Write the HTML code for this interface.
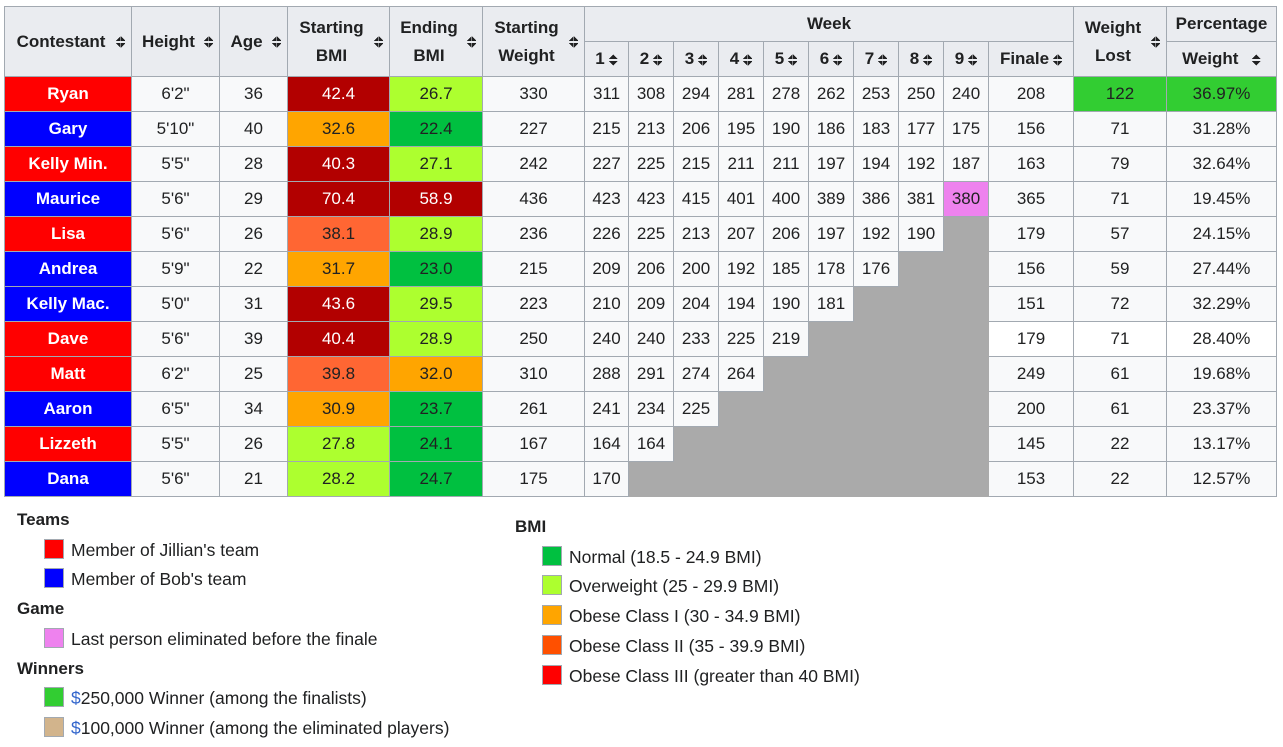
<!DOCTYPE html>
<html><head><meta charset="utf-8"><style>
body{margin:0;background:#fff;font-family:"Liberation Sans",sans-serif;color:#202122;width:1283px;height:747px;overflow:hidden;position:relative}
table{position:absolute;left:4px;top:6px;border-collapse:collapse;table-layout:fixed;font-size:17px}
td,th{border:1px solid #a2a9b1;padding:0;text-align:center;background:#f8f9fa;height:34px}
th{background:#eaecf0;font-weight:bold;font-size:17px;line-height:28px;position:relative}
th.s{padding-right:14px}
.a{display:inline-block;width:9px;height:12px;vertical-align:middle;margin-left:4px;background:
linear-gradient(to bottom right,transparent 50%,#202122 50%) 0 0/4.5px 5px no-repeat,
linear-gradient(to bottom left,transparent 50%,#202122 50%) 4.5px 0/4.5px 5px no-repeat,
linear-gradient(to top right,transparent 50%,#202122 50%) 0 7px/4.5px 5px no-repeat,
linear-gradient(to top left,transparent 50%,#202122 50%) 4.5px 7px/4.5px 5px no-repeat}
.r{position:absolute;right:6px;top:50%;margin-top:-6px}
.R{background:#f00;color:#fff;font-weight:bold}.B{background:#00f;color:#fff;font-weight:bold}
.dr{background:#b20000;color:#fff}.or{background:#ffa500}.oo{background:#ff6633}.lg{background:#adff2f}.gn{background:#00c040}
.w{background:#32cd32}.pk{background:#ee82ee}.g{background:#aaa;border-color:#aaa}
.lg2{position:absolute;font-size:17.5px}
.lg2 b{position:absolute;white-space:nowrap;font-size:17px}
.it{position:absolute;white-space:nowrap}
.it i{position:absolute;left:-27px;top:-1px;width:20px;height:20px;border:1px solid #a2a9b1;box-sizing:border-box}
.d{color:#3366cc}
</style></head><body>
<table>
<colgroup><col style="width:127px"><col style="width:88px"><col style="width:68px"><col style="width:102px"><col style="width:93px"><col style="width:102px"><col style="width:44px"><col style="width:45px"><col style="width:45px"><col style="width:45px"><col style="width:45px"><col style="width:45px"><col style="width:45px"><col style="width:45px"><col style="width:45px"><col style="width:85px"><col style="width:93px"><col style="width:110px"></colgroup>
<tr><th rowspan="2" class="s">Contestant<span class="a r"></span></th><th rowspan="2" class="s">Height<span class="a r"></span></th><th rowspan="2" class="s">Age<span class="a r"></span></th><th rowspan="2" class="s">Starting<br>BMI<span class="a r"></span></th><th rowspan="2" class="s">Ending<br>BMI<span class="a r"></span></th><th rowspan="2" class="s">Starting<br>Weight<span class="a r"></span></th><th colspan="10">Week</th><th rowspan="2" class="s">Weight<br>Lost<span class="a r"></span></th><th>Percentage</th></tr>
<tr><th>1<span class="a"></span></th><th>2<span class="a"></span></th><th>3<span class="a"></span></th><th>4<span class="a"></span></th><th>5<span class="a"></span></th><th>6<span class="a"></span></th><th>7<span class="a"></span></th><th>8<span class="a"></span></th><th>9<span class="a"></span></th><th>Finale<span class="a"></span></th><th>Weight &nbsp;<span class="a"></span></th></tr>
<tr><td class="R">Ryan</td><td>6'2"</td><td>36</td><td class="dr">42.4</td><td class="lg">26.7</td><td>330</td><td>311</td><td>308</td><td>294</td><td>281</td><td>278</td><td>262</td><td>253</td><td>250</td><td>240</td><td>208</td><td class="w">122</td><td class="w">36.97%</td></tr>
<tr><td class="B">Gary</td><td>5'10"</td><td>40</td><td class="or">32.6</td><td class="gn">22.4</td><td>227</td><td>215</td><td>213</td><td>206</td><td>195</td><td>190</td><td>186</td><td>183</td><td>177</td><td>175</td><td>156</td><td>71</td><td>31.28%</td></tr>
<tr><td class="R">Kelly Min.</td><td>5'5"</td><td>28</td><td class="dr">40.3</td><td class="lg">27.1</td><td>242</td><td>227</td><td>225</td><td>215</td><td>211</td><td>211</td><td>197</td><td>194</td><td>192</td><td>187</td><td>163</td><td>79</td><td>32.64%</td></tr>
<tr><td class="B">Maurice</td><td>5'6"</td><td>29</td><td class="dr">70.4</td><td class="dr">58.9</td><td>436</td><td>423</td><td>423</td><td>415</td><td>401</td><td>400</td><td>389</td><td>386</td><td>381</td><td class="pk">380</td><td>365</td><td>71</td><td>19.45%</td></tr>
<tr><td class="R">Lisa</td><td>5'6"</td><td>26</td><td class="oo">38.1</td><td class="lg">28.9</td><td>236</td><td>226</td><td>225</td><td>213</td><td>207</td><td>206</td><td>197</td><td>192</td><td>190</td><td class="g"></td><td>179</td><td>57</td><td>24.15%</td></tr>
<tr><td class="B">Andrea</td><td>5'9"</td><td>22</td><td class="or">31.7</td><td class="gn">23.0</td><td>215</td><td>209</td><td>206</td><td>200</td><td>192</td><td>185</td><td>178</td><td>176</td><td class="g"></td><td class="g"></td><td>156</td><td>59</td><td>27.44%</td></tr>
<tr><td class="B">Kelly Mac.</td><td>5'0"</td><td>31</td><td class="dr">43.6</td><td class="lg">29.5</td><td>223</td><td>210</td><td>209</td><td>204</td><td>194</td><td>190</td><td>181</td><td class="g"></td><td class="g"></td><td class="g"></td><td>151</td><td>72</td><td>32.29%</td></tr>
<tr><td class="R">Dave</td><td>5'6"</td><td>39</td><td class="dr">40.4</td><td class="lg">28.9</td><td>250</td><td>240</td><td>240</td><td>233</td><td>225</td><td>219</td><td class="g"></td><td class="g"></td><td class="g"></td><td class="g"></td><td style="background:#fff">179</td><td style="background:#fff">71</td><td style="background:#fff">28.40%</td></tr>
<tr><td class="R">Matt</td><td>6'2"</td><td>25</td><td class="oo">39.8</td><td class="or">32.0</td><td>310</td><td>288</td><td>291</td><td>274</td><td>264</td><td class="g"></td><td class="g"></td><td class="g"></td><td class="g"></td><td class="g"></td><td>249</td><td>61</td><td>19.68%</td></tr>
<tr><td class="B">Aaron</td><td>6'5"</td><td>34</td><td class="or">30.9</td><td class="gn">23.7</td><td>261</td><td>241</td><td>234</td><td>225</td><td class="g"></td><td class="g"></td><td class="g"></td><td class="g"></td><td class="g"></td><td class="g"></td><td>200</td><td>61</td><td>23.37%</td></tr>
<tr><td class="R">Lizzeth</td><td>5'5"</td><td>26</td><td class="lg">27.8</td><td class="gn">24.1</td><td>167</td><td>164</td><td>164</td><td class="g"></td><td class="g"></td><td class="g"></td><td class="g"></td><td class="g"></td><td class="g"></td><td class="g"></td><td>145</td><td>22</td><td>13.17%</td></tr>
<tr><td class="B">Dana</td><td>5'6"</td><td>21</td><td class="lg">28.2</td><td class="gn">24.7</td><td>175</td><td>170</td><td class="g"></td><td class="g"></td><td class="g"></td><td class="g"></td><td class="g"></td><td class="g"></td><td class="g"></td><td class="g"></td><td>153</td><td>22</td><td>12.57%</td></tr>
</table>
<div class="lg2" style="left:0;top:0">
<b style="left:17px;top:510px">Teams</b>
<span class="it" style="left:71px;top:540px"><i style="background:#f00"></i>Member of Jillian's team</span>
<span class="it" style="left:71px;top:569px"><i style="background:#00f"></i>Member of Bob's team</span>
<b style="left:17px;top:599px">Game</b>
<span class="it" style="left:71px;top:629px"><i style="background:#ee82ee"></i>Last person eliminated before the finale</span>
<b style="left:17px;top:659px">Winners</b>
<span class="it" style="left:71px;top:688px"><i style="background:#32cd32"></i><span class="d">$</span>250,000 Winner (among the finalists)</span>
<span class="it" style="left:71px;top:718px"><i style="background:#d2b48c"></i><span class="d">$</span>100,000 Winner (among the eliminated players)</span>
<b style="left:515px;top:517px">BMI</b>
<span class="it" style="left:569px;top:547px"><i style="background:#00c040"></i>Normal (18.5 - 24.9 BMI)</span>
<span class="it" style="left:569px;top:576px"><i style="background:#adff2f"></i>Overweight (25 - 29.9 BMI)</span>
<span class="it" style="left:569px;top:606px"><i style="background:#ffa500"></i>Obese Class I (30 - 34.9 BMI)</span>
<span class="it" style="left:569px;top:636px"><i style="background:#ff5000"></i>Obese Class II (35 - 39.9 BMI)</span>
<span class="it" style="left:569px;top:666px"><i style="background:#f00"></i>Obese Class III (greater than 40 BMI)</span>
</div>
</body></html>
